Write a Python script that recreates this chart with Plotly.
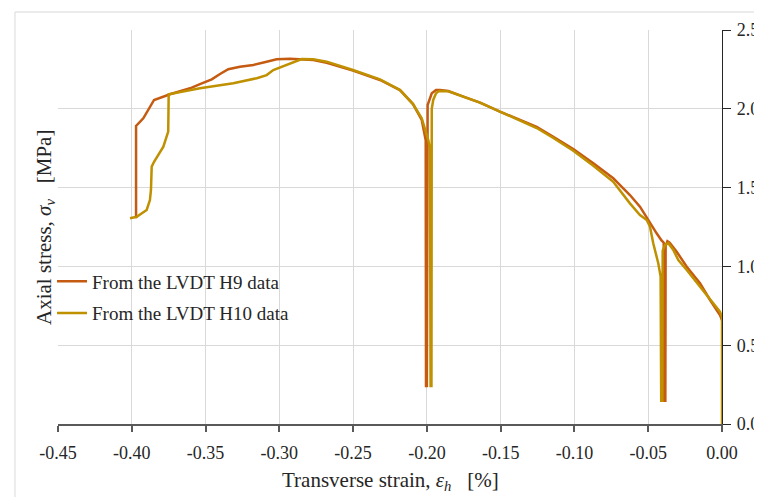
import plotly.graph_objects as go

# ---- data ----
h9_strain = [-0.3971, -0.3971, -0.3922, -0.3849, -0.3741, -0.3605, -0.3538, -0.3458,
             -0.3402, -0.3346, -0.3267, -0.3176, -0.3086, -0.3018, -0.2928, -0.2848,
             -0.2770, -0.2679, -0.2501, -0.2318, -0.2182, -0.2094, -0.2035, -0.2008,
             -0.2006, -0.2000, -0.1995, -0.1967, -0.1938, -0.1911, -0.1855, -0.1753,
             -0.1640, -0.1505, -0.1367, -0.1256, -0.1143, -0.1008, -0.0872, -0.0737,
             -0.0691, -0.0624, -0.0556, -0.0488, -0.0443, -0.0410, -0.0395, -0.0392,
             -0.0384, -0.0382, -0.0370, -0.0355, -0.0307, -0.0239, -0.0149, -0.0081,
             -0.0014, 0.0]
h9_stress = [1.305, 1.891, 1.940, 2.056, 2.092, 2.130, 2.157, 2.187,
             2.221, 2.251, 2.267, 2.278, 2.299, 2.314, 2.318, 2.316,
             2.310, 2.292, 2.242, 2.183, 2.119, 2.030, 1.929, 1.800,
             0.241, 0.241, 2.024, 2.098, 2.119, 2.119, 2.113, 2.077,
             2.039, 1.982, 1.929, 1.886, 1.823, 1.745, 1.654, 1.559,
             1.516, 1.453, 1.379, 1.273, 1.210, 1.165, 1.150, 0.148,
             0.148, 1.130, 1.160, 1.150, 1.093, 0.998, 0.893, 0.787,
             0.692, 0.660]

h10_strain = [-0.4012, -0.3967, -0.3899, -0.3877, -0.3870, -0.3865, -0.3849, -0.3786,
              -0.3753, -0.3750, -0.3538, -0.3312, -0.3153, -0.3086, -0.3041, -0.2973,
              -0.2905, -0.2848, -0.2770, -0.2679, -0.2501, -0.2318, -0.2182, -0.2094,
              -0.2035, -0.1990, -0.1979, -0.1975, -0.1969, -0.1967, -0.1957, -0.1938,
              -0.1923, -0.1911, -0.1855, -0.1753, -0.1640, -0.1505, -0.1367, -0.1256,
              -0.1143, -0.1008, -0.0872, -0.0737, -0.0624, -0.0556, -0.0510, -0.0488,
              -0.0466, -0.0432, -0.0416, -0.0412, -0.0404, -0.0402, -0.0386, -0.0364,
              -0.0330, -0.0296, -0.0239, -0.0149, -0.0081, -0.0014, 0.0, 0.0]
h10_stress = [1.305, 1.315, 1.358, 1.421, 1.485, 1.633, 1.664, 1.760,
              1.855, 2.092, 2.130, 2.162, 2.194, 2.214, 2.246, 2.272,
              2.299, 2.316, 2.314, 2.299, 2.246, 2.187, 2.119, 2.030,
              1.940, 1.800, 1.743, 0.241, 0.241, 2.000, 2.056, 2.098,
              2.109, 2.113, 2.111, 2.077, 2.039, 1.982, 1.925, 1.878,
              1.815, 1.734, 1.639, 1.537, 1.400, 1.326, 1.294, 1.252,
              1.147, 1.020, 0.935, 0.148, 0.148, 1.100, 1.136, 1.147,
              1.104, 1.041, 0.977, 0.871, 0.787, 0.713, 0.680, 0.0]

x_ticks = [-0.45, -0.40, -0.35, -0.30, -0.25, -0.20, -0.15, -0.10, -0.05, 0.00]
x_tick_labels = ["-0.45", "-0.40", "-0.35", "-0.30", "-0.25", "-0.20", "-0.15",
                 "-0.10", "-0.05", "0.00"]
y_ticks = [0.0, 0.5, 1.0, 1.5, 2.0, 2.5]
y_tick_labels = ["0.00", "0.50", "1.00", "1.50", "2.00", "2.50"]

series_names = ["From the LVDT H9 data", "From the LVDT H10 data"]
colors = ["#C55A11", "#BF9000"]

FONT = "Liberation Serif"
GRID = "#D9D9D9"
TXT = "#262626"

fig = go.Figure()
fig.add_trace(go.Scatter(x=h9_strain, y=h9_stress, mode="lines", name=series_names[0],
                         legendgroup="a", line=dict(color=colors[0], width=2.5)))
fig.add_trace(go.Scatter(x=h10_strain, y=h10_stress, mode="lines", name=series_names[1],
                         legendgroup="b", line=dict(color=colors[1], width=2.5)))

# page body adds an 8px offset, so margins are reduced by 8
fig.update_layout(
    width=762, height=497,
    margin=dict(l=50, r=48, t=22, b=81),
    paper_bgcolor="white", plot_bgcolor="white",
    font=dict(family=FONT, size=18, color=TXT),
    showlegend=True,
    legend=dict(x=-0.009, y=0.41, xanchor="left", yanchor="top",
                bgcolor="rgba(0,0,0,0)", font=dict(family=FONT, size=19, color=TXT),
                traceorder="grouped", tracegroupgap=4),
    xaxis=dict(range=[-0.45, 0.0], tickmode="array", tickvals=x_ticks, ticktext=x_tick_labels,
               showgrid=True, gridcolor=GRID, gridwidth=1, zeroline=False,
               showline=True, linecolor="#595959", linewidth=1.5,
               ticks="outside", ticklen=6, tickcolor="#595959", tickwidth=1.5,
               ticklabelstandoff=6,
               tickfont=dict(family=FONT, size=18, color=TXT), automargin=False),
    yaxis=dict(range=[0, 2.5], side="right", tickmode="array", tickvals=y_ticks,
               ticktext=y_tick_labels,
               showgrid=True, gridcolor=GRID, gridwidth=1, zeroline=False,
               showline=True, linecolor=TXT, linewidth=1.2,
               ticks="outside", ticklen=8, tickcolor=TXT, tickwidth=1.2,
               ticklabelstandoff=2,
               tickfont=dict(family=FONT, size=18, color=TXT), automargin=False),
)

# outer chart-area border
fig.add_shape(type="rect", xref="paper", yref="paper", x0=-0.0648, y0=-0.5, x1=1.5, y1=1.0457,
              line=dict(color=GRID, width=1), fillcolor="rgba(0,0,0,0)", layer="below")
# white legend backdrop (covers gridlines, below the traces)
fig.add_shape(type="rect", xref="paper", yref="paper", x0=-0.0015, y0=(424 - 331) / 394,
              x1=(312 - 58) / 664, y1=(424 - 267) / 394,
              line=dict(width=0), fillcolor="white", layer="between")

# axis titles
fig.add_annotation(xref="paper", yref="paper", x=0.5, y=-0.145, xanchor="center",
                   yanchor="middle", showarrow=False,
                   text="Transverse strain, <i>ε<sub>h</sub></i>\u00a0\u00a0\u00a0[%]",
                   font=dict(family=FONT, size=21, color=TXT))
fig.add_annotation(xref="paper", yref="paper", x=-0.0196, y=0.5, xanchor="center",
                   yanchor="middle", showarrow=False, textangle=-90,
                   text="Axial stress, <i>σ<sub>v</sub></i>\u00a0\u00a0\u00a0[MPa]",
                   font=dict(family=FONT, size=21, color=TXT))

fig.write_html("out.html")
